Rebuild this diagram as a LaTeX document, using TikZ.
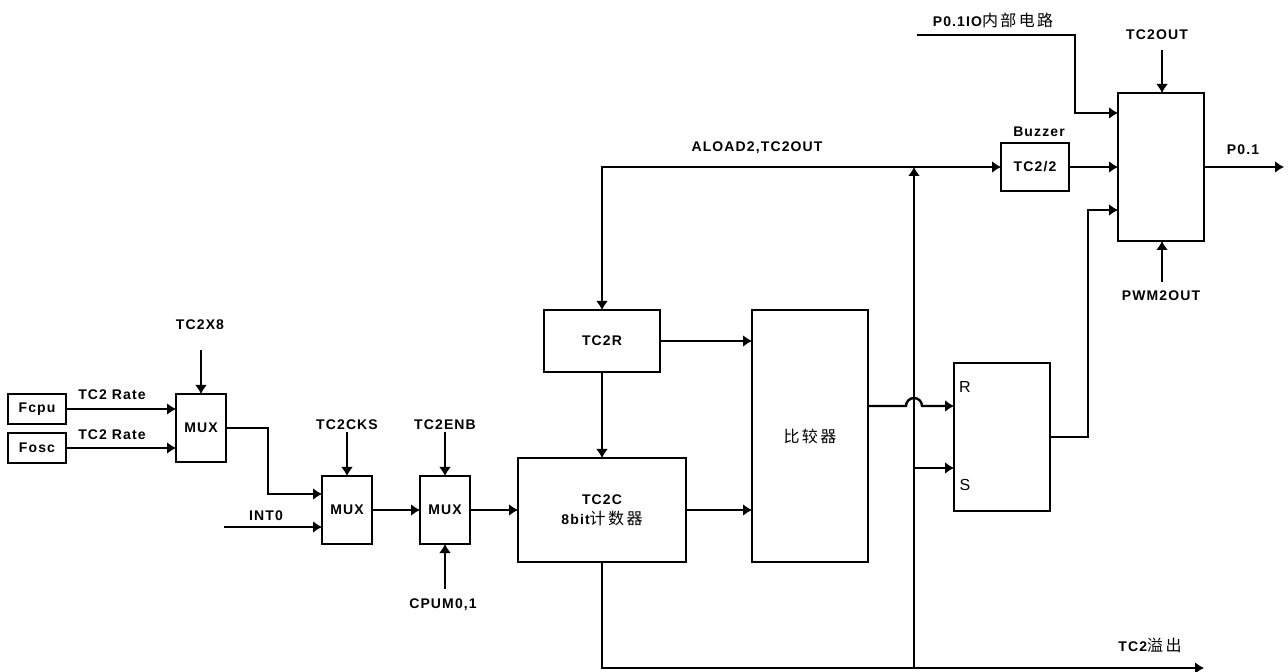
\documentclass[tikz,border=0pt]{standalone}
\usepackage{fontspec}
\usetikzlibrary{arrows.meta}
\setmainfont{Liberation Sans}[LetterSpace=8]
\newfontfamily\cjk[LetterSpace=15]{Noto Sans CJK SC}
\newfontfamily\plainsans{Liberation Sans}
\tikzset{block/.style={draw,line width=1.2pt,inner sep=0pt,outer sep=0pt},
  arrow/.style={-{Latex[length=4.5pt,width=6pt]},line width=1.2pt},
  lab/.style={inner sep=0pt}}

\begin{document}
\begin{tikzpicture}[x=.5pt,y=-.5pt,font=\fontsize{7pt}{10pt}\selectfont\bfseries]
\useasboundingbox (0,0) rectangle (1288,672);
% blocks
\node[block,minimum width=29pt,minimum height=15pt] (fcpu) at (37,409){Fcpu};
\node[block,minimum width=29pt,minimum height=15pt] (fosc) at (37,448){Fosc};
\node[block,minimum width=25pt,minimum height=34pt] (muxa) at (201,428){MUX};
\node[block,minimum width=25pt,minimum height=34pt] (muxb) at (347,510){MUX};
\node[block,minimum width=25pt,minimum height=34pt] (muxc) at (445,510){MUX};
\node[block,minimum width=84pt,minimum height=52pt,align=center] (cnt) at (602,510){TC2C\\8bit{\cjk\mdseries\fontsize{8pt}{10pt}\selectfont 计数器}};
\node[block,minimum width=58pt,minimum height=31pt] (rld) at (602,341){TC2R};
\node[block,minimum width=58pt,minimum height=126pt,font=\fontsize{8pt}{10pt}\cjk] (cmp) at (810,436){比较器};
\node[block,minimum width=48pt,minimum height=74pt] (rs) at (1002,437){};
\node[block,minimum width=34pt,minimum height=24pt] (div) at (1035,167){TC2/2};
\node[block,minimum width=43pt,minimum height=74pt] (out) at (1161,167){};
% free ends
\coordinate (x8) at (201,350);
\coordinate (cks) at (347,432);
\coordinate (enb) at (445,432);
\coordinate (cpu) at (445,589);
\coordinate (int) at (224,527);
\coordinate (io) at (917,35);
\coordinate (tco) at (1162,50);
\coordinate (pwm) at (1162,282);
\coordinate (pin) at (1284,167);
\coordinate (ovf) at (1204,668);
\coordinate (top) at (602,167);
\coordinate (bot) at (602,668);
\coordinate (bus) at (914,668);
\coordinate (bustop) at (914,167);
\coordinate (setin) at (914,468);
\coordinate (cmpout) at (868,406);
% labels
\node[lab] (lrca) at (112,395){TC2 Rate};
\node[lab] (lrcb) at (112,435){TC2 Rate};
\node[lab] (lx8) at (200,325){TC2X8};
\node[lab] (lcks) at (347,425){TC2CKS};
\node[lab] (lenb) at (445,425){TC2ENB};
\node[lab] (lcpu) at (443,605){CPUM0,1};
\node[lab] (lint) at (266,516){INT0};
\node[lab] (lld) at (757,148){ALOAD2,TC2OUT};
\node[lab] (lbuz) at (1039,132){Buzzer};
\node[lab] (lio) at (993,20){P0.1IO{\cjk\mdseries\fontsize{8pt}{10pt}\selectfont 内部电路}};
\node[lab] (ltco) at (1157,35){TC2OUT};
\node[lab] (lpwm) at (1161,296){PWM2OUT};
\node[lab] (lpin) at (1243,150){P0.1};
\node[lab] (lovf) at (1150,645){TC2{\cjk\mdseries\fontsize{8pt}{10pt}\selectfont 溢出}};
\node[lab,font=\fontsize{8pt}{10pt}\plainsans] (lr) at (965,387){R};
\node[lab,font=\fontsize{8pt}{10pt}\plainsans] (ls) at (965,485){S};
% connectors
\draw[arrow] (fcpu.east)--(fcpu.east-|muxa.west);
\draw[arrow] (fosc.east)--(fosc.east-|muxa.west);
\draw[arrow] (x8)--(x8|-muxa.north);
\draw[arrow] (muxa.east)-|(268,494)--(muxb.west|-0,494);
\draw[arrow] (int)--(int-|muxb.west);
\draw[arrow] (cks)--(muxb.north);
\draw[arrow] (enb)--(muxc.north);
\draw[arrow] (cpu)--(muxc.south);
\draw[arrow] (muxb.east)--(muxc.west);
\draw[arrow] (muxc.east)--(cnt.west);
\draw[arrow] (cnt.east)--(cnt.east-|cmp.west);
\draw[arrow] (rld.east)--(rld.east-|cmp.west);
\draw[arrow] (rld.south)--(rld.south|-cnt.north);
\draw[arrow,{Latex[length=4.5pt,width=6pt]}-{Latex[length=4.5pt,width=6pt]}] (rld.north)--(top)--(div.west);
\draw[arrow] (div.east)--(div.east-|out.west);
\draw[arrow] (io)-|(1075,113)--(out.west|-0,113);
\draw[arrow] (tco)--(tco|-out.north);
\draw[arrow] (pwm)--(pwm|-out.south);
\draw[arrow] (out.east)--(pin);
\draw[arrow] (cnt.south-|bot)--(bot)--(ovf);
\draw[arrow] (bus)--(bustop);
\draw[arrow] (setin)--(setin-|rs.west);
\draw[arrow] (cmpout)--(906,406) arc (180:360:8)--(cmpout-|rs.west);
\draw[arrow] (rs.east)-|(1088,210)--(out.west|-0,210);
\end{tikzpicture}
\end{document}
